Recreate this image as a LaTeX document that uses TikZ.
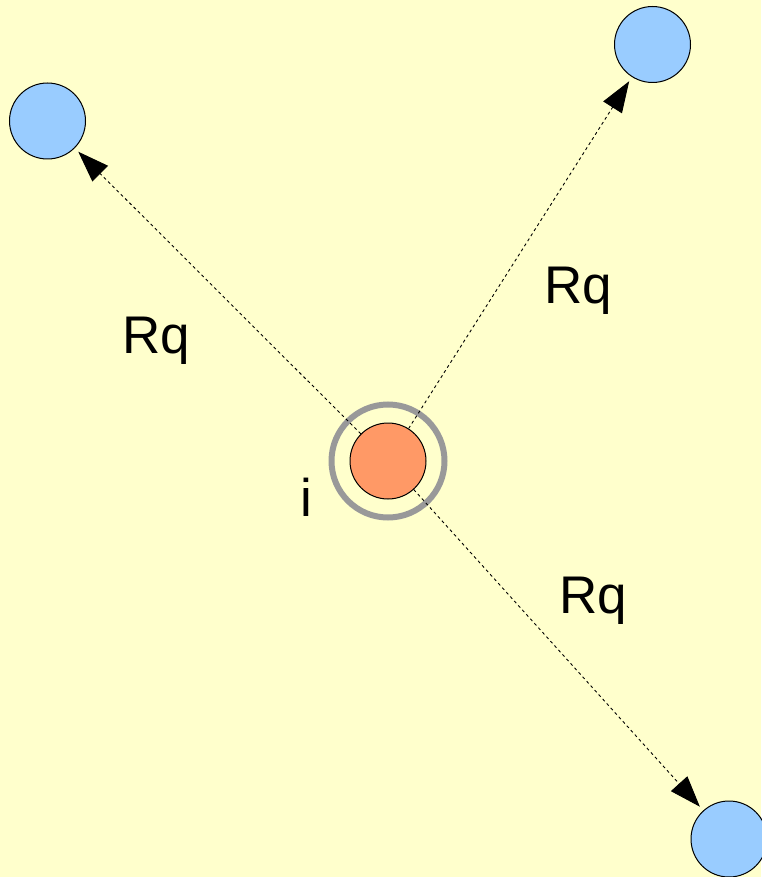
\documentclass[tikz,border=0pt]{standalone}
\usepackage{fontspec}
\setmainfont{Liberation Sans}
\usetikzlibrary{arrows.meta}
\definecolor{bgyellow}{HTML}{FFFFCC}
\definecolor{ballblue}{HTML}{99CCFF}
\definecolor{ballorange}{HTML}{FF9966}
\definecolor{ringgray}{HTML}{999999}
\tikzset{
  ball/.style={circle, draw=black, line width=1pt, inner sep=0pt, minimum size=76pt},
  blueball/.style={ball, fill=ballblue},
  centerball/.style={ball, fill=ballorange},
  ringstyle/.style={circle, draw=ringgray, line width=6pt, inner sep=0pt, minimum size=113pt},
  conn/.style={line width=0.9pt, dash pattern=on 3pt off 3pt, -{Triangle[length=31pt,width=22pt]}, shorten >=5pt},
  lbl/.style={anchor=base, inner sep=0pt, font=\fontsize{53}{60}\selectfont}
}
\begin{document}
\begin{tikzpicture}[x=1pt,y=-1pt]
\fill[bgyellow] (0,0) rectangle (761,877);
\useasboundingbox (0,0) rectangle (761,877);
\node[ringstyle] (ring) at (388,461) {};
\node[centerball] (i) at (388,461) {};
\node[blueball] (tl) at (47.5,121) {};
\node[blueball] (tr) at (652.5,44.5) {};
\node[blueball] (br) at (729,839) {};
\draw[conn] (i) -- (tl);
\draw[conn] (i) -- (tr);
\draw[conn] (i) -- (br);
\node[lbl] (l1) at (156,353) {Rq};
\node[lbl] (l2) at (578.5,303) {Rq};
\node[lbl] (l3) at (593.5,613) {Rq};
\node[lbl] (li) at (306,516) {i};
\end{tikzpicture}
\end{document}
